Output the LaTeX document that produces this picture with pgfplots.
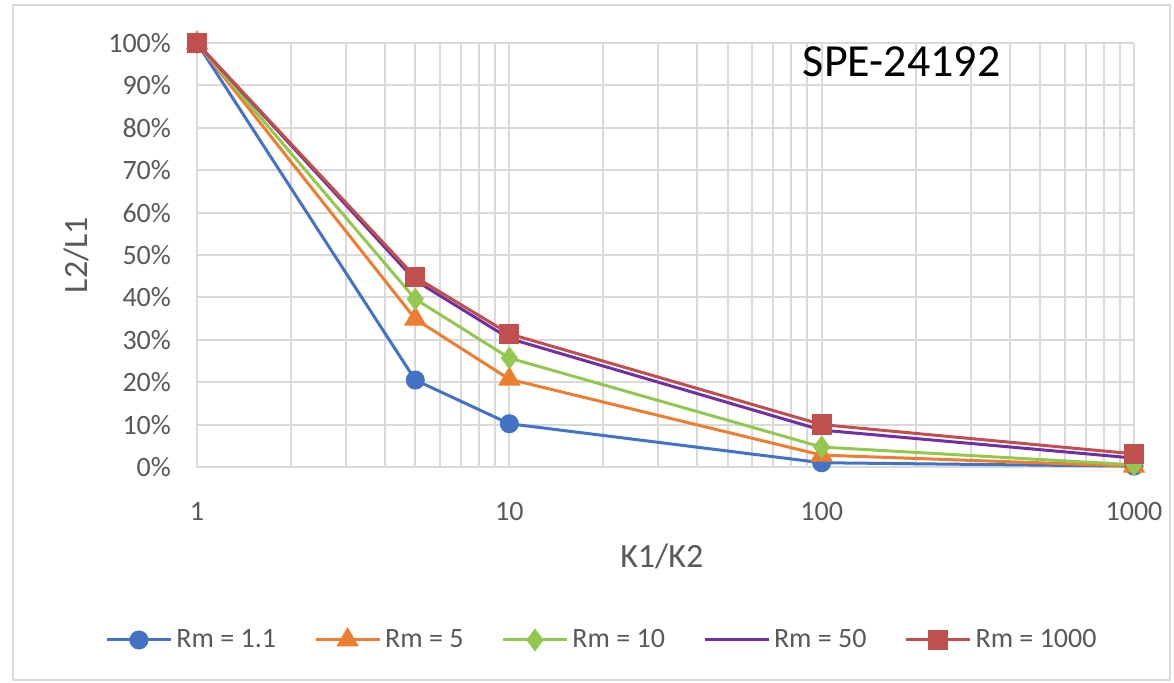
\documentclass[border=0pt]{standalone}
\usepackage{pgfplots}
\pgfplotsset{compat=1.18}
\usepackage{fontspec}
\setmainfont{Carlito}
\definecolor{txt}{RGB}{89,89,89}
\definecolor{grd}{RGB}{217,217,217}
\definecolor{c1}{RGB}{68,114,196}
\definecolor{c2}{RGB}{237,125,49}
\definecolor{c3}{RGB}{146,200,80}
\definecolor{c4}{RGB}{112,48,160}
\definecolor{c5}{RGB}{192,80,77}
\begin{document}
\begin{tikzpicture}
\fill[white] (-98.5pt,-108pt) rectangle (488.5pt,233.5pt);
\draw[grd, line width=1.2pt] (-92pt,-106.5pt) rectangle (486.5pt,231pt);
\begin{axis}[
  at={(0pt,0pt)}, anchor=origin,
  scale only axis, width=468.5pt, height=212pt,
  xmode=log, xmin=1, xmax=1000, ymin=0, ymax=1,
  log basis x=10,
  xtick={1,10,100,1000}, xticklabels={1,10,100,1000},
  minor xtick={2,3,4,5,6,7,8,9,20,30,40,50,60,70,80,90,200,300,400,500,600,700,800,900},
  ytick={0,0.1,...,1.01},
  yticklabels={0\%,10\%,20\%,30\%,40\%,50\%,60\%,70\%,80\%,90\%,100\%},
  xmajorgrids, xminorgrids, ymajorgrids,
  grid style={grd, line width=1pt},
  minor grid style={grd, line width=1pt},
  axis line style={draw=none},
  axis x line*=bottom,
  x axis line style={draw=grd, line width=1pt},
  axis y line*=left,
  y axis line style={draw=none},
  tick style={draw=none},
  ticklabel style={font=\fontsize{14}{16}\selectfont, text=txt},
  /pgf/number format/assume math mode=true,
  xticklabel style={yshift=-14pt},
  yticklabel style={xshift=-9.5pt},
  xlabel={K1/K2}, ylabel={L2/L1},
  label style={font=\fontsize{17}{19}\selectfont, text=txt},
  xlabel style={at={(axis description cs:0.496,0)}, anchor=center, yshift=-44.5pt},
  ylabel style={at={(axis description cs:-0.129,0.5)}, anchor=center},
  legend style={at={(203pt,-86.5pt)}, anchor=center, draw=none, fill=none,
    legend columns=5, font=\fontsize{14}{16}\selectfont, text=txt,
    /tikz/every odd column/.append style={column sep=0pt},
    /tikz/every even column/.append style={column sep=17pt}},
  legend cell align=left,
  legend image code/.code={
    \draw[#1, mark repeat=2, mark phase=2] plot coordinates {(0pt,0pt) (16pt,0pt) (32pt,0pt)};},
  clip=false,
]
\addplot[c1, line width=1.5pt, mark=*, mark size=4pt, mark options={fill=c1, draw=c1}]
 coordinates {(1,1) (5,0.205) (10,0.102) (100,0.01) (1000,0.002)};
\addlegendentry{Rm = 1.1}
\addplot[c2, line width=1.5pt, mark=triangle*, mark size=5pt, mark options={fill=c2, draw=c2}]
 coordinates {(1,1) (5,0.349) (10,0.207) (100,0.028) (1000,0.002)};
\addlegendentry{Rm = 5}
\addplot[c3, line width=1.5pt, mark=diamond*, mark size=4.5pt, mark options={fill=c3, draw=c3}]
 coordinates {(1,1) (5,0.396) (10,0.257) (100,0.047) (1000,0.005)};
\addlegendentry{Rm = 10}
\addplot[c4, line width=1.5pt, mark=none]
 coordinates {(1,1) (5,0.44) (10,0.303) (100,0.087) (1000,0.021)};
\addlegendentry{Rm = 50}
\addplot[c5, line width=1.5pt, mark=square*, mark size=4.3pt, mark options={fill=c5, draw=c5}]
 coordinates {(1,1) (5,0.448) (10,0.314) (100,0.1) (1000,0.031)};
\addlegendentry{Rm = 1000}
\node[anchor=center, font=\fontsize{23}{26}\selectfont, text=black] at (axis description cs:0.752,0.955) {SPE-24192};
\end{axis}
\end{tikzpicture}
\end{document}
